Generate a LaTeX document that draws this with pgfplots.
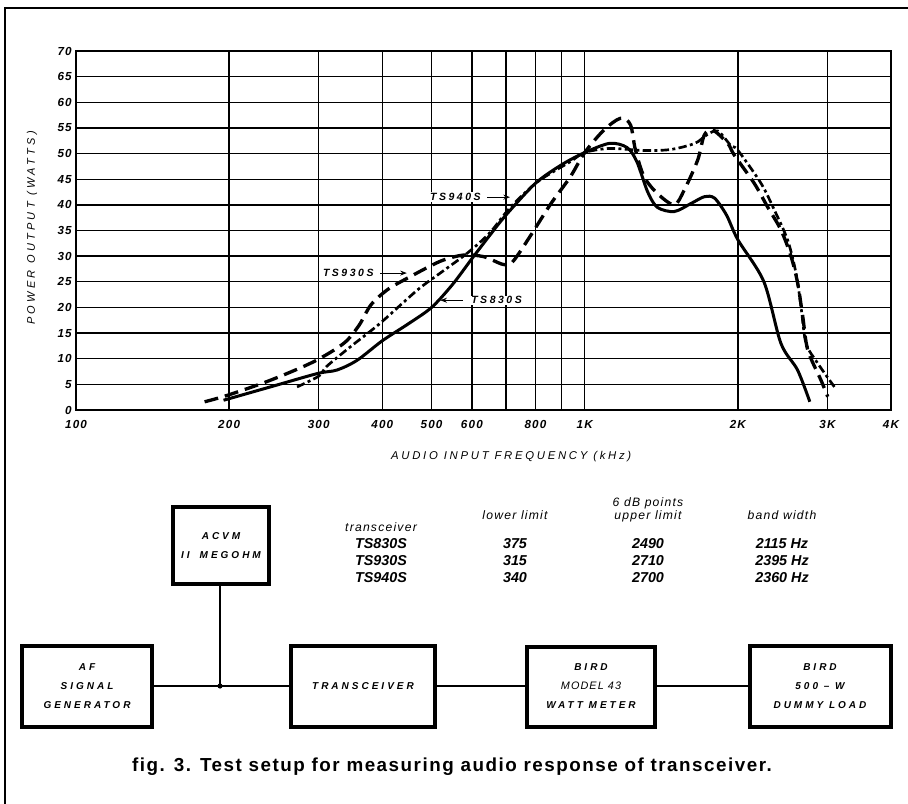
\documentclass[border=0pt]{standalone}
\usepackage{fontspec}
\setmainfont{Liberation Sans}
\newfontfamily\wide[LetterSpace=24]{Liberation Sans}
\newfontfamily\wider[LetterSpace=30]{Liberation Sans}
\newfontfamily\hdr[LetterSpace=10]{Liberation Sans}
\newfontfamily\capfont[LetterSpace=8]{Liberation Sans}
\usepackage{pgfplots}
\pgfplotsset{compat=1.18}
\usetikzlibrary{arrows.meta}

\begin{document}
\begin{tikzpicture}
\begin{scope}[x=0.6pt,y=-0.6pt]
\useasboundingbox (0,0) rectangle (908,804);
\draw[line width=1.2pt] (5,804) -- (5,8) -- (908,8);
\end{scope}
\begin{axis}[
  at={(45.6pt,-246pt)}, anchor=south west,
  scale only axis, width=489pt, height=215.4pt,
  xmode=log, xmin=100, xmax=4000, ymin=0, ymax=70,
  xtick={100,200,300,400,500,600,700,800,900,1000,2000,3000,4000},
  xticklabels={100,200,300,400,500,600,,800,,1K,2K,3K,4K},
  ytick={0,5,10,15,20,25,30,35,40,45,50,55,60,65,70},
  yticklabels={0,5,10,15,20,25,30,35,40,45,50,55,60,65,70},
  grid=major, major grid style={black, line width=0.8pt},
  axis line style={line width=0.9pt},
  major tick length=0pt,
  tick label style={font=\fontsize{7}{8}\selectfont\hdr\bfseries\itshape},
  xticklabel style={inner sep=0pt, yshift=-6pt},
  yticklabel style={inner sep=0pt, xshift=-2.4pt},
  /pgf/number format/assume math mode=true,
  xlabel={AUDIO INPUT FREQUENCY (kHz)},
  ylabel={POWER OUTPUT (WATTS)},
  xlabel style={at={(axis description cs:0.534,-0.131)}, anchor=center, font=\fontsize{6.8}{7}\selectfont\wide\itshape},
  ylabel style={at={(axis description cs:-0.054,0.507)}, anchor=center, font=\fontsize{6.6}{7}\selectfont\wider\itshape},
]
% TS830S solid
\addplot[black, line width=1.8pt, smooth, tension=0.5] coordinates {
(195,1.9) (241,4.5) (298,7.1) (326,7.8) (357,9.7) (400,13.5) (450,16.8) (500,20)
(550,24.5) (600,29.5) (650,34) (700,38) (800,44.2) (900,47.8) (1000,50.2)
(1120,52) (1210,51.2) (1265,48.5) (1330,42.5) (1390,39.5) (1500,38.7) (1620,40.3)
(1720,41.6) (1800,41.3) (1900,38) (2000,33.2) (2250,25) (2430,13) (2620,7.8) (2770,1.6)
};
% TS930S long dashes
\addplot[black, line width=2pt, smooth, tension=0.5, dash pattern=on 8.4pt off 4.2pt] coordinates {
(179,1.6) (199,2.9) (241,5.8) (293,9.4) (336,13) (360,16.5) (380,20.5) (410,23.5)
(450,25.8) (520,29) (577,30.2) (633,29.9) (690,28.4) (720,28.8) (771,33) (859,40.3)
(936,45.4) (1000,50.2) (1091,54.6) (1177,56.9) (1230,55.6) (1258,50.7) (1308,45.5)
(1390,42.2) (1500,40) (1569,42.9) (1667,48.7) (1718,53.6) (1784,54.6) (1910,52)
(1968,49.7) (2154,44.2) (2288,39.6) (2431,35.1) (2545,29.9) (2622,24.7) (2683,18.2)
(2744,11.7) (2914,5.8) (3004,2.6)
};
% TS940S dash-dot
\addplot[black, line width=1.6pt, smooth, tension=0.5, dash pattern=on 5pt off 2pt on 1.8pt off 2pt] coordinates {
(272,4.5) (300,6.6) (311,8.5) (346,12.3) (395,16.8) (469,23.4) (520,26.7) (588,30.6)
(650,34.5) (714,39.5) (808,44.5) (936,48.4) (1000,50.2) (1120,51) (1308,50.6)
(1477,50.8) (1647,52) (1735,53.6) (1826,54.4) (1940,51.5) (1998,50.7) (2221,44.2)
(2359,39) (2506,33.1) (2603,26.6) (2662,20.1) (2723,13) (2871,9.1) (3096,4.5)
};
% series labels
\draw[-{Stealth[length=4pt,width=3pt]}, line width=0.6pt] (axis cs:643,41.5) -- (axis cs:713,41.5);
\node[fill=white, inner sep=0.6pt, font=\fontsize{6.3}{7}\selectfont\wide\bfseries\itshape] at (axis cs:557,41.5) {TS940S};
\draw[-{Stealth[length=4pt,width=3pt]}, line width=0.6pt] (axis cs:396,26.7) -- (axis cs:447,26.7);
\node[fill=white, inner sep=0.6pt, font=\fontsize{6.3}{7}\selectfont\wide\bfseries\itshape] at (axis cs:343,26.7) {TS930S};
\draw[-{Stealth[length=4pt,width=3pt]}, line width=0.6pt] (axis cs:577,21.4) -- (axis cs:520,21.4);
\node[fill=white, inner sep=0.6pt, font=\fontsize{6.3}{7}\selectfont\wide\bfseries\itshape] at (axis cs:671,21.4) {TS830S};
\end{axis}

\begin{scope}[x=0.6pt,y=-0.6pt]
% table
\begin{scope}[every node/.style={inner sep=0pt, anchor=base}]
\node[font=\fontsize{7.3}{8}\selectfont\hdr\itshape] at (381,531) {transceiver};
\node[font=\fontsize{7.3}{8}\selectfont\hdr\itshape] at (515,519) {lower limit};
\node[font=\fontsize{7.3}{8}\selectfont\hdr\itshape] at (648,506) {6 dB points};
\node[font=\fontsize{7.3}{8}\selectfont\hdr\itshape] at (648,519) {upper limit};
\node[font=\fontsize{7.3}{8}\selectfont\hdr\itshape] at (782,519) {band width};
\foreach \y/\a/\b/\c/\d in {548/TS830S/375/2490/2115 Hz, 565/TS930S/315/2710/2395 Hz, 582/TS940S/340/2700/2360 Hz}{
  \node[font=\fontsize{8.6}{9}\selectfont\bfseries\itshape] at (381,\y) {\a};
  \node[font=\fontsize{8.6}{9}\selectfont\bfseries\itshape] at (515,\y) {\b};
  \node[font=\fontsize{8.6}{9}\selectfont\bfseries\itshape] at (648,\y) {\c};
  \node[font=\fontsize{8.6}{9}\selectfont\bfseries\itshape] at (782,\y) {\d};
}
\end{scope}

% block diagram
\begin{scope}[line width=2.4pt]
\draw (173,507) rectangle (269,584);
\draw (22,646) rectangle (152,727);
\draw (291,646) rectangle (435,727);
\draw (527,647) rectangle (655,727);
\draw (750,646) rectangle (891,727);
\end{scope}
\draw[line width=0.7pt] (152,686) -- (291,686);
\draw[line width=0.7pt] (435,686) -- (527,686);
\draw[line width=0.7pt] (655,686) -- (750,686);
\draw[line width=0.7pt] (220,584) -- (220,686);
\fill (220,686) circle (2.6);
\begin{scope}[every node/.style={align=center, font=\fontsize{6}{11.4}\selectfont\wider\bfseries\itshape}]
\node at (221,546) {\fontsize{6}{18}\selectfont ACVM\\II\quad MEGOHM};
\node at (87,686) {AF\\SIGNAL\\GENERATOR};
\node at (363,686) {TRANSCEIVER};
\node at (591,686) {BIRD\\{\hdr\mdseries\fontsize{6.5}{11.4}\selectfont\itshape MODEL 43}\\WATT METER};
\node at (820,686) {BIRD\\500 – W\\DUMMY LOAD};
\end{scope}
\node[font=\fontsize{11.3}{13}\selectfont\capfont\bfseries] at (452,767) {fig. 3. Test setup for measuring audio response of transceiver.};
\end{scope}
\end{tikzpicture}
\end{document}
